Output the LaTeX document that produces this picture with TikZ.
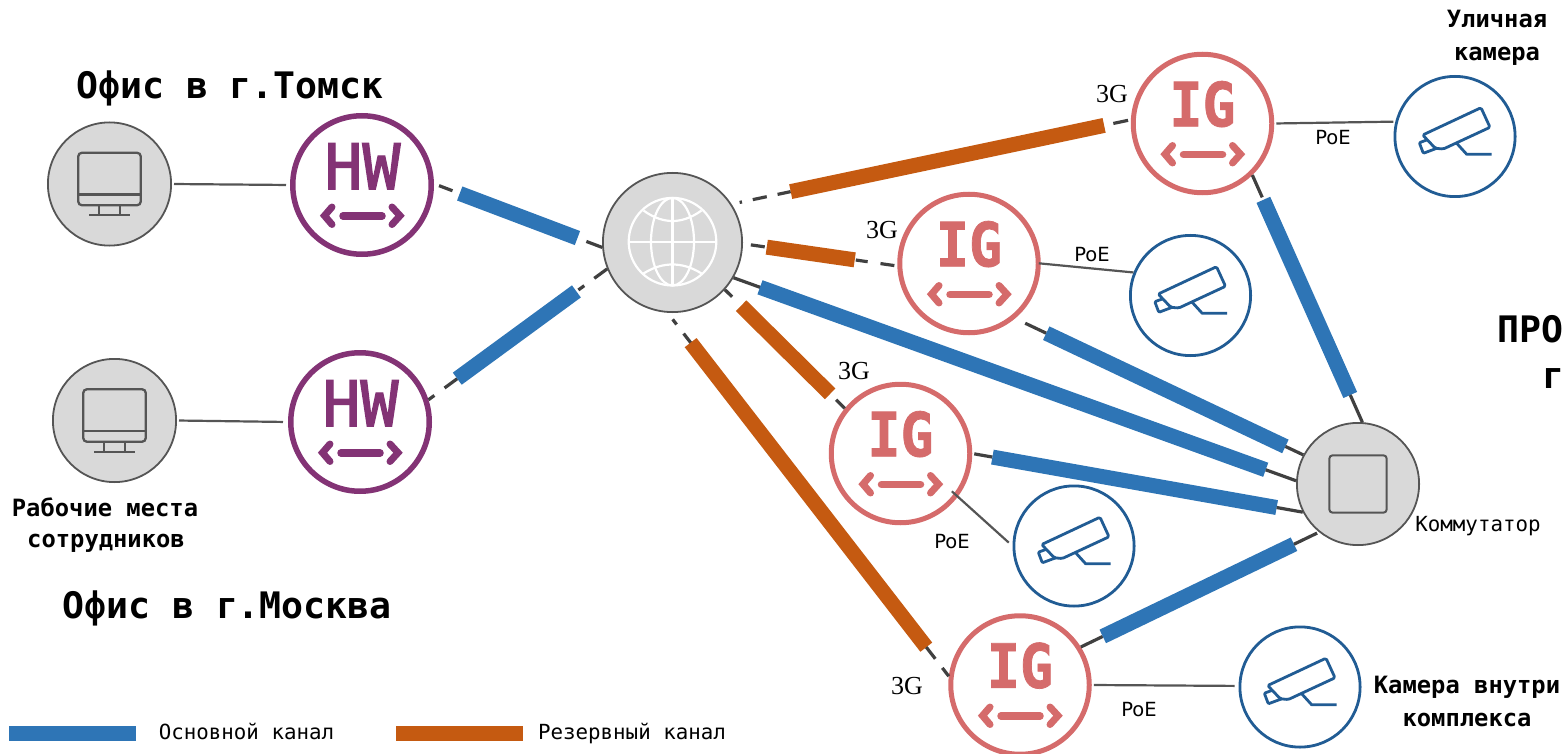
\documentclass[tikz,border=0pt]{standalone}
\usepackage{fontspec}
\usetikzlibrary{calc}
\newfontfamily\monofam{DejaVu Sans Mono}
\newfontfamily\hwfont[FakeBold=2.2]{DejaVu Sans Mono}
\newfontfamily\igfont[FakeBold=1.2,FakeStretch=0.9]{DejaVu Sans Mono Bold}
\newfontfamily\poefam{DejaVu Sans}
\newfontfamily\gfam{Liberation Serif}
\definecolor{mainblue}{HTML}{2E75B6}
\definecolor{backorange}{HTML}{C55A11}
\definecolor{hwpurple}{HTML}{833375}
\definecolor{igred}{HTML}{D56B6B}
\definecolor{camblue}{HTML}{215C94}
\definecolor{nodegray}{HTML}{D9D9D9}
\definecolor{edgegray}{HTML}{555555}
\definecolor{linkdark}{HTML}{404040}
\tikzset{
  graynode/.style={circle,draw=edgegray,fill=nodegray,line width=1.8pt,minimum size=#1,inner sep=0pt},
  hwnode/.style={circle,draw=hwpurple,fill=white,line width=5.5pt,minimum size=138.5pt,inner sep=0pt},
  ignode/.style={circle,draw=igred,fill=white,line width=5pt,minimum size=138.5pt,inner sep=0pt},
  camnode/.style={circle,draw=camblue,fill=white,line width=2.8pt,minimum size=120.2pt,inner sep=0pt},
  darkseg/.style={draw=linkdark,line width=3.2pt},
  barseg/.style={line width=15pt},
  thinlink/.style={draw=edgegray,line width=2.2pt},
  titletxt/.style={inner sep=0pt,anchor=base,font=\monofam\bfseries\fontsize{36.5}{40}\selectfont},
  labeltxt/.style={inner sep=0pt,anchor=base,font=\monofam\bfseries\fontsize{23.8}{26}\selectfont},
  smalltxt/.style={inner sep=0pt,anchor=base,font=\monofam\fontsize{20.8}{24}\selectfont},
  poetxt/.style={inner sep=0pt,anchor=base,font=\poefam\fontsize{19.5}{22}\selectfont},
  gtxt/.style={inner sep=0pt,anchor=base,font=\gfam\fontsize{26}{28}\selectfont},
  hwtxt/.style={inner sep=0pt,anchor=base,font=\hwfont\fontsize{63}{70}\selectfont},
  igtxt/.style={inner sep=0pt,anchor=base,font=\igfont\fontsize{61}{70}\selectfont},
}
% pieces of a connector between fractions of its length
\newcommand{\dkseg}[4]{\draw[darkseg] ($(#1)!#3!(#2)$) -- ($(#1)!#4!(#2)$);}
\newcommand{\barpart}[5]{\draw[barseg,draw=#5] ($(#1)!#3!(#2)$) -- ($(#1)!#4!(#2)$);}
\newcommand{\chevrons}[1]{%
  \draw[#1,line width=7pt,line cap=round,line join=miter] (-30,22) -- (-37.5,30.7) -- (-30,39.5);
  \draw[#1,line width=7pt,line cap=round,line join=miter] (30,22) -- (38,30.7) -- (30,39.5);
  \draw[#1,line width=7.5pt,line cap=round] (-19,31) -- (20,31);}
\newcommand{\monitoricon}{%
  \draw[edgegray,line width=2.3pt,rounded corners=3.5pt] (-31.2,-31.2) rectangle (31.2,21.2);
  \draw[edgegray,line width=2.3pt] (-31.2,10.5) -- (31.2,10.5) (-10.5,21.2) -- (-10.5,31.2) (10.2,21.2) -- (10.2,31.2) (-20.2,31.2) -- (20.5,31.2);}
\newcommand{\cameraicon}{%
  \draw[camblue,line width=2.8pt,line join=round,rounded corners=1.5pt]
    (-32.3,-1.5) -- (26,-28.8) -- (35,-9.2) -- (-11.7,12.5) -- (-19.7,11.8) -- cycle;
  \draw[camblue,line width=2.8pt,line join=round,rounded corners=1pt]
    (-28.3,3.5) -- (-35.7,6.2) -- (-31.7,16.8) -- (-18.3,11.8);
  \draw[camblue,line width=2.8pt,line join=round] (1.7,6.8) -- (11.7,17.8) -- (36.7,17.8);}
\begin{document}
\begin{tikzpicture}[x=1pt,y=-1pt]
\useasboundingbox (0,0) rectangle (1566,754);
% nodes
\node[graynode=123.2pt] (pc1) at (109.5,184) {};
\node[graynode=123.2pt] (pc2) at (114.5,420.5) {};
\node[hwnode] (hw1) at (362,185) {};
\node[hwnode] (hw2) at (360,422) {};
\node[graynode=139.2pt] (net) at (672.5,242.5) {};
\node[graynode=122.2pt] (sw) at (1358,484) {};
\node[ignode] (ig1) at (1202.5,123.5) {};
\node[ignode] (ig2) at (969,263.5) {};
\node[ignode] (ig3) at (900.5,453.5) {};
\node[ignode] (ig4) at (1020,685) {};
\node[camnode] (cam1) at (1455,136.5) {};
\node[camnode] (cam2) at (1190.5,295.5) {};
\node[camnode] (cam3) at (1074,546) {};
\node[camnode] (cam4) at (1300,687) {};
% icons
\begin{scope}[shift={(pc1)}]\monitoricon\end{scope}
\begin{scope}[shift={(pc2)}]\monitoricon\end{scope}
\begin{scope}[shift={(hw1)}]\chevrons{hwpurple}\node[hwtxt,text=hwpurple] (hwa) at (0.5,4.3) {HW};\end{scope}
\begin{scope}[shift={(hw2)}]\chevrons{hwpurple}\node[hwtxt,text=hwpurple] (hwb) at (0.5,4.3) {HW};\end{scope}
\begin{scope}[shift={(ig1)}]\chevrons{igred}\node[igtxt,text=igred] (iga) at (0,2.8) {IG};\end{scope}
\begin{scope}[shift={(ig2)}]\chevrons{igred}\node[igtxt,text=igred] (igb) at (0,2.8) {IG};\end{scope}
\begin{scope}[shift={(ig3)}]\chevrons{igred}\node[igtxt,text=igred] (igc) at (0,2.8) {IG};\end{scope}
\begin{scope}[shift={(ig4)}]\chevrons{igred}\node[igtxt,text=igred] (igd) at (0,2.8) {IG};\end{scope}
\begin{scope}[shift={(cam1)}]\cameraicon\end{scope}
\begin{scope}[shift={(cam2)}]\cameraicon\end{scope}
\begin{scope}[shift={(cam3)}]\cameraicon\end{scope}
\begin{scope}[shift={(cam4)}]\cameraicon\end{scope}
% globe
\begin{scope}[shift={(net)},white,line width=2.2pt]
  \draw (0,-0.8) circle[radius=43.8];
  \draw (0,-44.6) -- (0,43) (-43.8,-0.8) -- (43.8,-0.8);
  \draw (0,-0.8) circle[x radius=21.5,y radius=43.8];
  \draw (-29,-32) .. controls (-18,-24) and (-8,-21.5) .. (0,-21.5) .. controls (8,-21.5) and (18,-24) .. (29,-32);
  \draw (-29,31) .. controls (-18,24) and (-8,22) .. (0,22) .. controls (8,22) and (18,24) .. (29,31);
\end{scope}
% switch
\draw[edgegray,line width=2pt,rounded corners=3pt] ($(sw)+(-28.6,-28.6)$) rectangle ($(sw)+(28.6,28.6)$);
% thin links
\draw[thinlink,shorten <=2pt,shorten >=4pt] (pc1.0) -- (hw1.180);
\draw[thinlink,shorten <=2pt,shorten >=5pt] (pc2.0) -- (hw2.180);
\draw[thinlink,shorten <=2pt,shorten >=2pt] (ig1.0) -- (cam1.166);
\draw[thinlink,shorten <=-2pt,shorten >=0pt] (ig2.0) -- (cam2.158.6);
\draw[thinlink,shorten <=-8pt,shorten >=5pt] (ig3.323) -- (cam3.180);
\draw[thinlink,shorten <=2pt,shorten >=4pt] (ig4.0) -- (cam4.179);
% hw1 - net
\dkseg{hw1.1}{net.184.5}{.03}{.11}
\barpart{hw1.1}{net.184.5}{.153}{.853}{mainblue}
\dkseg{hw1.1}{net.184.5}{.906}{1}
% hw2 - net
\dkseg{hw2.18}{net.202}{0}{.033}
\dkseg{hw2.18}{net.202}{.09}{.161}
\barpart{hw2.18}{net.202}{.161}{.828}{mainblue}
\dkseg{hw2.18}{net.202}{.839}{.872}
\dkseg{hw2.18}{net.202}{.928}{1}
% net - ig1
\dkseg{net.33}{ig1.177}{.02}{.026}
\dkseg{net.33}{ig1.177}{.053}{.088}
\dkseg{net.33}{ig1.177}{.115}{.148}
\barpart{net.33}{ig1.177}{.148}{.933}{backorange}
\dkseg{net.33}{ig1.177}{.956}{.993}
% net - ig2
\dkseg{net.359}{ig2.182}{.051}{.141}
\barpart{net.359}{ig2.182}{.154}{.724}{backorange}
\dkseg{net.359}{ig2.182}{.731}{.808}
\dkseg{net.359}{ig2.182}{.891}{.981}
% net - sw
\dkseg{net.330}{sw.177}{0}{.05}
\barpart{net.330}{sw.177}{.047}{.946}{mainblue}
\dkseg{net.330}{sw.177}{.946}{1}
% net - ig3
\dkseg{net.318.5}{ig3.141.7}{0}{.06}
\barpart{net.318.5}{ig3.141.7}{.135}{.878}{backorange}
\dkseg{net.318.5}{ig3.141.7}{.928}{1}
% net - ig4
\dkseg{net.266.4}{ig4.173}{.018}{.032}
\dkseg{net.266.4}{ig4.173}{.057}{.085}
\barpart{net.266.4}{ig4.173}{.082}{.92}{backorange}
\dkseg{net.266.4}{ig4.173}{.92}{.952}
\dkseg{net.266.4}{ig4.173}{.977}{1}
% ig1 - sw
\dkseg{ig1.314.5}{sw.86}{0}{.09}
\barpart{ig1.314.5}{sw.86}{.10}{.89}{mainblue}
\dkseg{ig1.314.5}{sw.86}{.89}{1}
% ig2 - sw
\dkseg{ig2.310}{sw.152}{.035}{.108}
\barpart{ig2.310}{sw.152}{.108}{.938}{mainblue}
\dkseg{ig2.310}{sw.152}{.938}{1}
% ig3 - sw
\dkseg{ig3.0}{sw.207}{.006}{.061}
\barpart{ig3.0}{sw.207}{.061}{.921}{mainblue}
\dkseg{ig3.0}{sw.207}{.921}{1}
% ig4 - sw
\dkseg{ig4.32.6}{sw.231}{0}{.092}
\barpart{ig4.32.6}{sw.231}{.092}{.895}{mainblue}
\dkseg{ig4.32.6}{sw.231}{.895}{.992}
% titles and labels
\node[titletxt] (t1) at (230,98.5) {Офис в г.Томск};
\node[titletxt] (t2) at (227,618) {Офис в г.Москва};
\node[titletxt,anchor=base west] (t3) at (1497,342) {ПРО};
\node[titletxt,anchor=base west] (t4) at (1542,388) {г};
\node[labeltxt] (l1) at (105,516) {Рабочие места};
\node[labeltxt] (l2) at (106,547) {сотрудников};
\node[labeltxt] (l3) at (1497,28) {Уличная};
\node[labeltxt] (l4) at (1497,61) {камера};
\node[labeltxt] (l5) at (1467,693) {Камера внутри};
\node[labeltxt] (l6) at (1467,726) {комплекса};
\node[smalltxt] (k) at (1478,531) {Коммутатор};
\node[poetxt] (p1) at (1333,145) {PoE};
\node[poetxt] (p2) at (1092,261) {PoE};
\node[poetxt] (p3) at (952,548) {PoE};
\node[poetxt] (p4) at (1139,716) {PoE};
\node[gtxt] (g1) at (1112,103) {3G};
\node[gtxt] (g2) at (882,238) {3G};
\node[gtxt] (g3) at (854,379) {3G};
\node[gtxt] (g4) at (907,694) {3G};
% legend
\coordinate (lb1) at (9,733.5);
\coordinate (lb2) at (136,733.5);
\coordinate (lo1) at (396,733.5);
\coordinate (lo2) at (523,733.5);
\draw[barseg,draw=mainblue] (lb1) -- (lb2);
\draw[barseg,draw=backorange] (lo1) -- (lo2);
\node[smalltxt] (lt1) at (246.5,739) {Основной канал};
\node[smalltxt] (lt2) at (632,739) {Резервный канал};
\end{tikzpicture}
\end{document}
